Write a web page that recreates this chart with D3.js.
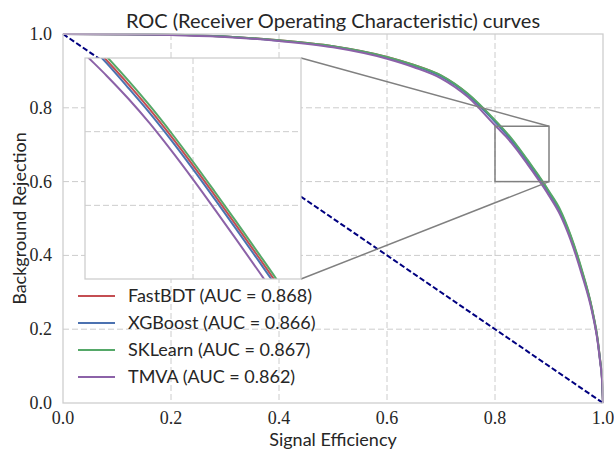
<!DOCTYPE html>
<html>
<head>
<meta charset="utf-8">
<script src="https://cdn.jsdelivr.net/npm/d3@7"></script>
<style>
  body { margin: 0; background: #fff; }
</style>
</head>
<body>
<div id="chart"></div>
<script>
// signal efficiency grid shared by all classifiers
var effGrid = [0, 0.1, 0.2, 0.3, 0.4, 0.5, 0.6, 0.65, 0.7, 0.75, 0.8, 0.81, 0.82, 0.83, 0.84, 0.85,
               0.86, 0.87, 0.88, 0.89, 0.9, 0.92, 0.94, 0.96, 0.98, 0.99, 0.995, 0.998, 1.0];

// background rejection, one array per classifier
var rejFastBDT = [1.0, 0.9995, 0.998, 0.993, 0.983, 0.967, 0.938, 0.916, 0.887, 0.837,
                  0.764, 0.7485, 0.7323, 0.7151, 0.6966, 0.6771, 0.6569, 0.6364, 0.6156, 0.5944, 0.5714,
                  0.522, 0.452, 0.362, 0.252, 0.172, 0.112, 0.070, 0.0];
var rejXGBoost = [1.0, 0.9995, 0.998, 0.993, 0.982, 0.966, 0.936, 0.914, 0.885, 0.835,
                  0.762, 0.7465, 0.7298, 0.7126, 0.6941, 0.6746, 0.6544, 0.6339, 0.6131, 0.5919, 0.5689,
                  0.519, 0.449, 0.359, 0.250, 0.170, 0.110, 0.069, 0.0];
var rejSKLearn = [1.0, 0.9995, 0.998, 0.993, 0.983, 0.967, 0.938, 0.916, 0.888, 0.838,
                  0.7665, 0.751, 0.7348, 0.7176, 0.6991, 0.6796, 0.6594, 0.6389, 0.6181, 0.5969, 0.5739,
                  0.526, 0.455, 0.365, 0.254, 0.174, 0.113, 0.071, 0.0];
var rejTMVA    = [1.0, 0.9995, 0.997, 0.992, 0.981, 0.964, 0.933, 0.910, 0.880, 0.829,
                  0.7525, 0.738, 0.7225, 0.7056, 0.6871, 0.6676, 0.6474, 0.6269, 0.6061, 0.5849, 0.5619,
                  0.512, 0.442, 0.352, 0.245, 0.167, 0.108, 0.067, 0.0];

var names = ["FastBDT", "XGBoost", "SKLearn", "TMVA"];
var aucs = ["0.868", "0.866", "0.867", "0.862"];
var colors = ["#c44e52", "#4c72b0", "#55a868", "#8c62a8"];

var xTicks = [0, 0.2, 0.4, 0.6, 0.8, 1.0];
var yTicks = [0, 0.2, 0.4, 0.6, 0.8, 1.0];
var insetXTicks = [0.85];
var insetYTicks = [0.65, 0.70];
var zoomX = [0.8, 0.9];
var zoomY = [0.6, 0.75];

var width = 614, height = 453;
var plotLeft = 63, plotRight = 603, plotTop = 34, plotBottom = 403;
var insetLeft = 85, insetRight = 301, insetTop = 58, insetBottom = 279;
var sansFont = "Lato, 'Liberation Sans', sans-serif";
var serifFont = "'Liberation Serif', 'DejaVu Serif', serif";

var svg = d3.select("#chart").append("svg")
    .attr("width", width)
    .attr("height", height);

var x = d3.scaleLinear().domain([0, 1]).range([plotLeft, plotRight]);
var y = d3.scaleLinear().domain([0, 1]).range([plotBottom, plotTop]);

var series = [rejFastBDT, rejXGBoost, rejSKLearn, rejTMVA].map(function(rej, i) {
    return {
        name: names[i],
        auc: aucs[i],
        color: colors[i],
        values: effGrid.map(function(e, j) { return {x: e, y: rej[j]}; })
    };
});

var defs = svg.append("defs");
defs.append("clipPath").attr("id", "mainClip")
    .append("rect").attr("x", plotLeft).attr("y", plotTop - 2)
    .attr("width", plotRight - plotLeft + 2).attr("height", plotBottom - plotTop + 4);

// grid
var grid = svg.append("g");
grid.selectAll(".gx").data(xTicks.slice(1, -1)).enter().append("line")
    .attr("x1", function(d) { return x(d); }).attr("x2", function(d) { return x(d); })
    .attr("y1", plotTop).attr("y2", plotBottom)
    .attr("stroke", "#cccccc").attr("stroke-width", 1).attr("stroke-dasharray", "6,3");
grid.selectAll(".gy").data(yTicks.slice(1, -1)).enter().append("line")
    .attr("x1", plotLeft).attr("x2", plotRight)
    .attr("y1", function(d) { return y(d); }).attr("y2", function(d) { return y(d); })
    .attr("stroke", "#cccccc").attr("stroke-width", 1).attr("stroke-dasharray", "6,3");

// chance diagonal
svg.append("line")
    .attr("x1", x(0)).attr("y1", y(1)).attr("x2", x(1)).attr("y2", y(0))
    .attr("stroke", "#000080").attr("stroke-width", 2).attr("stroke-dasharray", "5.5,2.5");

var line = d3.line()
    .x(function(d) { return x(d.x); })
    .y(function(d) { return y(d.y); })
    .curve(d3.curveMonotoneX);

svg.append("g").attr("clip-path", "url(#mainClip)")
    .selectAll("path").data(series).enter().append("path")
    .attr("d", function(d) { return line(d.values); })
    .attr("fill", "none")
    .attr("stroke", function(d) { return d.color; })
    .attr("stroke-width", 2);

// spines
svg.append("rect")
    .attr("x", plotLeft).attr("y", plotTop).attr("width", plotRight - plotLeft).attr("height", plotBottom - plotTop)
    .attr("fill", "none").attr("stroke", "#cccccc").attr("stroke-width", 1.25);

// inset
var ix = d3.scaleLinear().domain(zoomX).range([insetLeft, insetRight]);
var iy = d3.scaleLinear().domain(zoomY).range([insetBottom, insetTop]);

// zoom box + connectors
svg.append("rect")
    .attr("x", x(zoomX[0])).attr("y", y(zoomY[1]))
    .attr("width", x(zoomX[1]) - x(zoomX[0])).attr("height", y(zoomY[0]) - y(zoomY[1]))
    .attr("fill", "none").attr("stroke", "#808080").attr("stroke-width", 1.5);
svg.append("line")
    .attr("x1", ix(zoomX[1])).attr("y1", iy(zoomY[1])).attr("x2", x(zoomX[1])).attr("y2", y(zoomY[1]))
    .attr("stroke", "#808080").attr("stroke-width", 1.5);
svg.append("line")
    .attr("x1", ix(zoomX[1])).attr("y1", iy(zoomY[0])).attr("x2", x(zoomX[1])).attr("y2", y(zoomY[0]))
    .attr("stroke", "#808080").attr("stroke-width", 1.5);

defs.append("clipPath").attr("id", "insetClip")
    .append("rect").attr("x", insetLeft).attr("y", insetTop)
    .attr("width", insetRight - insetLeft).attr("height", insetBottom - insetTop);

var inset = svg.append("g");
inset.append("rect").attr("x", insetLeft).attr("y", insetTop)
    .attr("width", insetRight - insetLeft).attr("height", insetBottom - insetTop).attr("fill", "#fff");
inset.selectAll(".igx").data(insetXTicks).enter().append("line")
    .attr("x1", function(d) { return ix(d); }).attr("x2", function(d) { return ix(d); })
    .attr("y1", insetTop).attr("y2", insetBottom)
    .attr("stroke", "#cccccc").attr("stroke-width", 1).attr("stroke-dasharray", "6,3");
inset.selectAll(".igy").data(insetYTicks).enter().append("line")
    .attr("x1", insetLeft).attr("x2", insetRight)
    .attr("y1", function(d) { return iy(d); }).attr("y2", function(d) { return iy(d); })
    .attr("stroke", "#cccccc").attr("stroke-width", 1).attr("stroke-dasharray", "6,3");

var iline = d3.line()
    .x(function(d) { return ix(d.x); })
    .y(function(d) { return iy(d.y); })
    .curve(d3.curveMonotoneX);

inset.append("g").attr("clip-path", "url(#insetClip)")
    .selectAll("path").data(series).enter().append("path")
    .attr("d", function(d) { return iline(d.values); })
    .attr("fill", "none")
    .attr("stroke", function(d) { return d.color; })
    .attr("stroke-width", 2);

inset.append("rect").attr("x", insetLeft).attr("y", insetTop)
    .attr("width", insetRight - insetLeft).attr("height", insetBottom - insetTop)
    .attr("fill", "none").attr("stroke", "#cccccc").attr("stroke-width", 1.25);

// tick labels
svg.selectAll(".xt").data(xTicks).enter().append("text")
    .attr("x", function(d) { return x(d); }).attr("y", 424)
    .attr("text-anchor", "middle")
    .attr("font-family", serifFont).attr("font-size", 18).attr("fill", "#262626")
    .text(function(d) { return d.toFixed(1); });
svg.selectAll(".yt").data(yTicks).enter().append("text")
    .attr("x", 52).attr("y", function(d) { return y(d) + 6; })
    .attr("text-anchor", "end")
    .attr("font-family", serifFont).attr("font-size", 18).attr("fill", "#262626")
    .text(function(d) { return d.toFixed(1); });

// labels
svg.append("text")
    .attr("x", (plotLeft + plotRight) / 2).attr("y", 28)
    .attr("text-anchor", "middle")
    .attr("font-family", sansFont).attr("font-size", 20).attr("fill", "#262626")
    .text("ROC (Receiver Operating Characteristic) curves");
svg.append("text")
    .attr("x", (plotLeft + plotRight) / 2).attr("y", 446)
    .attr("text-anchor", "middle")
    .attr("font-family", sansFont).attr("font-size", 18).attr("fill", "#262626")
    .text("Signal Efficiency");
svg.append("text")
    .attr("transform", "translate(26," + (plotTop + plotBottom) / 2 + ") rotate(-90)")
    .attr("text-anchor", "middle")
    .attr("font-family", sansFont).attr("font-size", 18).attr("fill", "#262626")
    .text("Background Rejection");

// legend
var legend = svg.selectAll(".legend").data(series).enter().append("g")
    .attr("transform", function(d, i) { return "translate(78," + (296 + i * 27) + ")"; });
legend.append("line")
    .attr("x1", 0).attr("x2", 37).attr("y1", 0).attr("y2", 0)
    .attr("stroke", function(d) { return d.color; }).attr("stroke-width", 2);
legend.append("text")
    .attr("x", 50).attr("y", 6)
    .attr("font-family", sansFont).attr("font-size", 18).attr("fill", "#262626")
    .text(function(d) { return d.name + " (AUC = " + d.auc + ")"; });
</script>
</body>
</html>
